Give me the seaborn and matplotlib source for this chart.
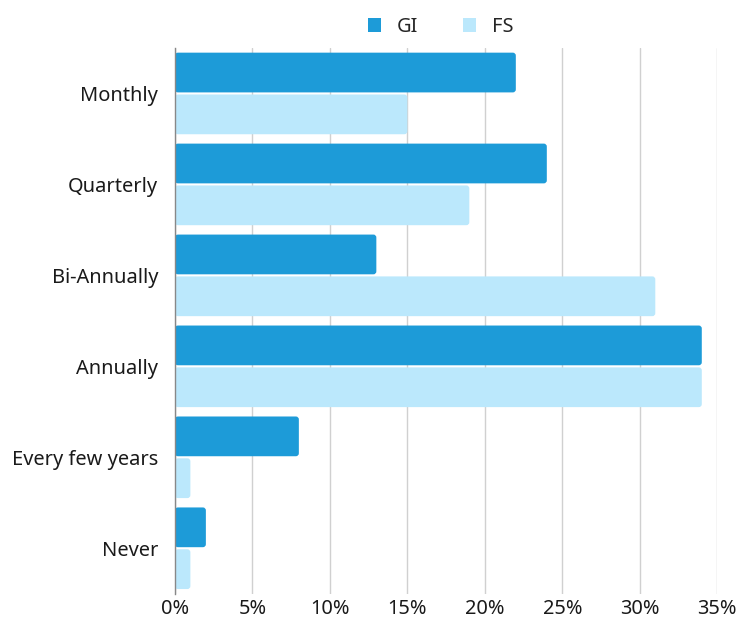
import matplotlib
matplotlib.use("Agg")
import matplotlib.pyplot as plt
import seaborn as sns
import pandas as pd
from matplotlib.ticker import FuncFormatter, MultipleLocator
from matplotlib.patches import FancyBboxPatch, Patch

categories = ["Monthly", "Quarterly", "Bi-Annually", "Annually", "Every few years", "Never"]
gi_values = [22, 24, 13, 34, 8, 2]
fs_values = [15, 19, 31, 34, 1, 1]
series_names = ["GI", "FS"]
colors = ["#1d9bd8", "#bbe8fc"]

df = pd.DataFrame({
    "category": categories * 2,
    "value": gi_values + fs_values,
    "series": [series_names[0]] * len(categories) + [series_names[1]] * len(categories),
})

sns.set_theme(style="white")
plt.rcParams["font.family"] = ["Noto Sans", "DejaVu Sans"]

fig = plt.figure(figsize=(7.41, 6.23), dpi=100)
ax = fig.add_axes([0.236, 0.047, 0.732, 0.876])

sns.barplot(data=df, y="category", x="value", hue="series", order=categories,
            hue_order=series_names, palette=colors, orient="h", width=0.92, gap=0.05,
            saturation=1, linewidth=0, ax=ax, legend=False)

ax.set_xlim(0, 35)
ax.set_ylim(len(categories) - 0.5, -0.5)

# round the bar corners slightly
xpx = 542 / 35.0
ypx = 91.0
for p in list(ax.patches):
    x0, y0 = p.get_x(), p.get_y()
    w, h = p.get_width(), p.get_height()
    fc = p.get_facecolor()
    rp = FancyBboxPatch((x0, y0), w, h,
                        boxstyle=f"round,pad=0,rounding_size={min(3.0 / xpx, w / 2):.4f}",
                        mutation_aspect=xpx / ypx, facecolor=fc, edgecolor="none",
                        linewidth=0, zorder=p.get_zorder())
    p.set_visible(False)
    ax.add_patch(rp)

ax.xaxis.set_major_locator(MultipleLocator(5))
ax.xaxis.set_major_formatter(FuncFormatter(lambda v, p: f"{int(v)}%"))
ax.grid(axis="x", color="#d0d0d0", linewidth=1)
ax.set_axisbelow(True)
for s in ["top", "right", "bottom"]:
    ax.spines[s].set_visible(False)
ax.spines["left"].set_color("#888888")
ax.spines["left"].set_linewidth(1)
ax.spines["left"].set_zorder(5)
ax.set_xlabel("")
ax.set_ylabel("")
ax.tick_params(axis="both", length=0, labelsize=14.4, colors="#1a1a1a")
ax.tick_params(axis="y", pad=12)
ax.tick_params(axis="x", pad=4)

handles = [Patch(facecolor=c, edgecolor="none") for c in colors]
ax.legend(handles, series_names, loc="upper center", bbox_to_anchor=(0.49, 1.09), ncol=2,
          frameon=False, fontsize=14.4, handlelength=0.65, handleheight=0.65,
          columnspacing=2.2, handletextpad=0.8)

fig.savefig("out.png", dpi=100, facecolor="white")
